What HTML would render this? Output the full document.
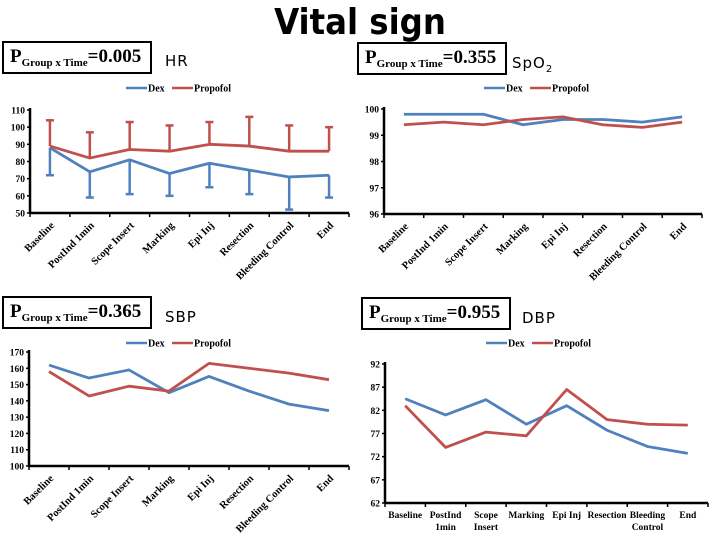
<!DOCTYPE html>
<html><head><meta charset="utf-8"><style>
body{margin:0;width:720px;height:540px;background:#fff;overflow:hidden;font-family:"Liberation Serif",serif}
svg{position:absolute;left:0;top:0}
.box{position:absolute;border:2.5px solid #000;background:#fff;font-family:"Liberation Serif",serif;font-weight:bold;font-size:19px;line-height:28px;padding-left:6px;box-sizing:border-box}
.box sub{font-size:11px;vertical-align:-4px}
.lab{position:absolute;font-family:"DejaVu Sans","Liberation Sans",sans-serif;font-size:15px;letter-spacing:1px}
</style></head><body>
<div style="position:absolute;left:0;width:720px;top:2px;text-align:center;font-family:'DejaVu Sans Condensed','DejaVu Sans',sans-serif;font-weight:bold;font-size:36px">Vital sign</div>
<div class="box" style="left:2px;top:41px;width:150px;height:33px">P<sub>Group x Time</sub>=0.005</div>
<div class="lab" style="left:165px;top:52px">HR</div>
<div class="box" style="left:357px;top:42px;width:150px;height:33px">P<sub>Group x Time</sub>=0.355</div>
<div class="lab" style="left:512px;top:54px">SpO<sub style="font-size:10px">2</sub></div>
<div class="box" style="left:2px;top:296px;width:150px;height:33px">P<sub>Group x Time</sub>=0.365</div>
<div class="lab" style="left:165px;top:308px">SBP</div>
<div class="box" style="left:361px;top:297px;width:150px;height:33px">P<sub>Group x Time</sub>=0.955</div>
<div class="lab" style="left:522px;top:309px">DBP</div>
<svg id="s" width="720" height="540"></svg>
<script>
const categories=["Baseline","PostInd 1min","Scope Insert","Marking","Epi Inj","Resection","Bleeding Control","End"];
const hrDex=[88,74,81,73,79,75,71,72];
const hrDexLow=[72,59,61,60,65,61,52,59];
const hrProp=[89,82,87,86,90,89,86,86];
const hrPropHigh=[104,97,103,101,103,106,101,100];
const hrTicks=[50,60,70,80,90,100,110];
const spDex=[99.8,99.8,99.8,99.4,99.6,99.6,99.5,99.7];
const spProp=[99.4,99.5,99.4,99.6,99.7,99.4,99.3,99.5];
const spTicks=[96,97,98,99,100];
const sbpDex=[162,154,159,145,155,146,138,134];
const sbpProp=[158,143,149,146,163,160,157,153];
const sbpTicks=[100,110,120,130,140,150,160,170];
const dbpDex=[84.5,81,84.3,79,83,77.7,74.2,72.7];
const dbpProp=[83,74,77.3,76.5,86.5,80,79,78.8];
const dbpTicks=[62,67,72,77,82,87,92];
const BLUE="#4f81bd",RED="#c0504d";
const svg=document.getElementById('s');const NS="http://www.w3.org/2000/svg";
function mk(t,a,p){const e=document.createElementNS(NS,t);for(const k in a)e.setAttribute(k,a[k]);(p||svg).appendChild(e);return e;}
function chart(o){
  const g=mk('g',{});
  
  
  const mn=o.ticks[0],mx=o.ticks[o.ticks.length-1];
  const y=v=>o.y1+(mx-v)/(mx-mn)*(o.y0-o.y1);
  const step=(o.x1-o.x0)/categories.length;
  const x=i=>o.x0+step*(i+0.5);
  const lg=mk('g',{},g);
  
  
  [[BLUE,"Dex",o.lx],[RED,"Propofol",o.lx+46]].forEach(([c,t,lx])=>{
    mk('line',{x1:lx,x2:lx+21,y1:o.ly,y2:o.ly,stroke:c,'stroke-width':2.5},lg);
    const tx=mk('text',{x:lx+22,y:o.ly+3.5,'font-size':10,'font-weight':'bold','font-family':'Liberation Serif'},lg);tx.textContent=t;
  });
  o.ticks.forEach(t=>{
    mk('line',{x1:o.x0-3,x2:o.x0,y1:y(t),y2:y(t),stroke:'#000','stroke-width':1.5},g);
    const tx=mk('text',{x:o.x0-5,y:y(t)+3.5,'font-size':9.5,'font-weight':'bold','text-anchor':'end','font-family':'Liberation Serif'},g);tx.textContent=t;
  });
  for(let i=0;i<=categories.length;i++)mk('line',{x1:o.x0+step*i,x2:o.x0+step*i,y1:o.y0,y2:o.y0+4,stroke:'#000','stroke-width':1.5},g);
  mk('line',{x1:o.x0,x2:o.x0,y1:o.y1-2,y2:o.y0,stroke:'#000','stroke-width':2.5},g);
  mk('line',{x1:o.x0,x2:o.x1,y1:o.y0,y2:o.y0,stroke:'#000','stroke-width':2.5},g);
  categories.forEach((c,i)=>{
    if(o.flat){
      const parts=c==="PostInd 1min"?["PostInd","1min"]:c==="Scope Insert"?["Scope","Insert"]:c==="Bleeding Control"?["Bleeding","Control"]:[c];
      parts.forEach((p,j)=>{const t=mk('text',{x:x(i),y:o.y0+15+j*12,'font-size':9.5,'font-weight':'bold','text-anchor':'middle','font-family':'Liberation Serif'},g);t.textContent=p;});
    }else{
      const t=mk('text',{x:x(i)+5,y:o.y0+13,'font-size':10.5,'font-weight':'bold','text-anchor':'end','font-family':'Liberation Serif',transform:`rotate(-45 ${x(i)+5} ${o.y0+13})`},g);t.textContent=c;
    }
  });
  if(o.errD){o.errD.forEach((v,i)=>{mk('line',{x1:x(i),x2:x(i),y1:y(o.dex[i]),y2:y(v),stroke:BLUE,'stroke-width':2.5},g);mk('line',{x1:x(i)-4,x2:x(i)+4,y1:y(v),y2:y(v),stroke:BLUE,'stroke-width':2.5},g);});}
  if(o.errP){o.errP.forEach((v,i)=>{mk('line',{x1:x(i),x2:x(i),y1:y(o.prop[i]),y2:y(v),stroke:RED,'stroke-width':2.5},g);mk('line',{x1:x(i)-4,x2:x(i)+4,y1:y(v),y2:y(v),stroke:RED,'stroke-width':2.5},g);});}
  [[o.dex,BLUE,'dex-line'],[o.prop,RED,'propofol-line']].forEach(([d,c,n])=>{
    const p=mk('polyline',{points:d.map((v,i)=>x(i)+','+y(v)).join(' '),fill:'none',stroke:c,'stroke-width':2.8,'stroke-linejoin':'round'},g);
    
  });
}
chart({name:'hr-chart',x0:30,x1:349,y0:213,y1:110,ticks:hrTicks,dex:hrDex,prop:hrProp,errD:hrDexLow,errP:hrPropHigh,lx:126,ly:88});
chart({name:'spo2-chart',x0:384,x1:702,y0:214,y1:109,ticks:spTicks,dex:spDex,prop:spProp,lx:484,ly:88});
chart({name:'sbp-chart',x0:29,x1:349,y0:466,y1:352,ticks:sbpTicks,dex:sbpDex,prop:sbpProp,lx:126,ly:343});
chart({name:'dbp-chart',x0:385,x1:708,y0:503,y1:364,ticks:dbpTicks,dex:dbpDex,prop:dbpProp,lx:486,ly:343,flat:true});
</script>
</body></html>
